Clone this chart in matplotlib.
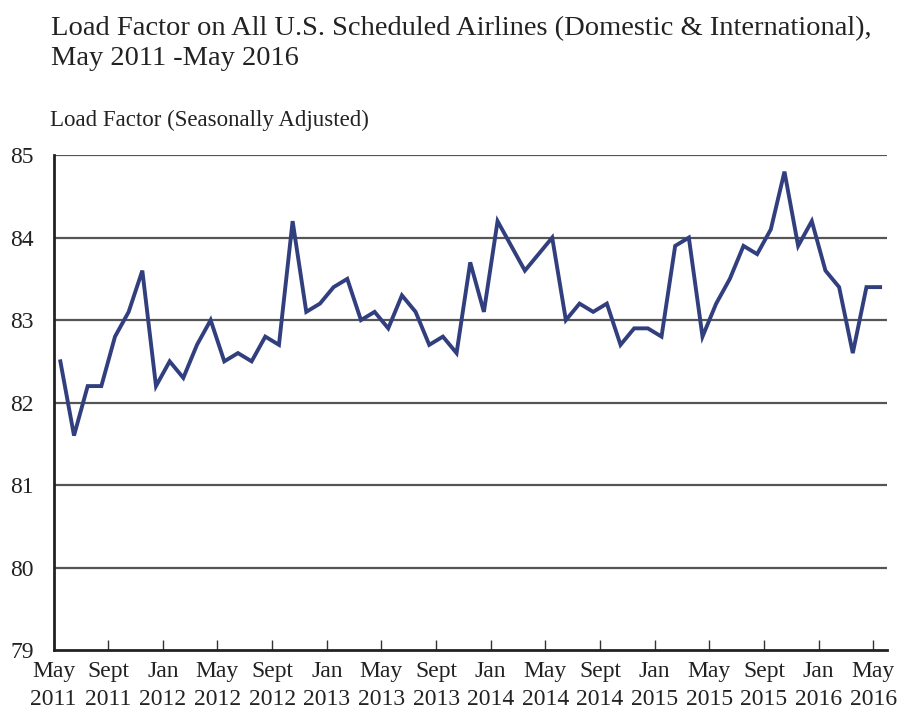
import numpy as np
import matplotlib.pyplot as plt

# monthly load factor, May 2011 .. May 2016 (61 points)
load_factor = [
    82.5, 81.6, 82.2, 82.2, 82.8, 83.1, 83.6, 82.2, 82.5, 82.3,
    82.7, 83.0, 82.5, 82.6, 82.5, 82.8, 82.7, 84.2, 83.1, 83.2,
    83.4, 83.5, 83.0, 83.1, 82.9, 83.3, 83.1, 82.7, 82.8, 82.6,
    83.7, 83.1, 84.2, 83.9, 83.6, 83.8, 84.0, 83.0, 83.2, 83.1,
    83.2, 82.7, 82.9, 82.9, 82.8, 83.9, 84.0, 82.8, 83.2, 83.5,
    83.9, 83.8, 84.1, 84.8, 83.9, 84.2, 83.6, 83.4, 82.6, 83.4,
    83.4,
]
tick_labels = ['May\n2011', 'Sept\n2011', 'Jan\n2012', 'May\n2012', 'Sept\n2012',
               'Jan\n2013', 'May\n2013', 'Sept\n2013', 'Jan\n2014', 'May\n2014',
               'Sept\n2014', 'Jan\n2015', 'May\n2015', 'Sept\n2015', 'Jan\n2016',
               'May\n2016']
y_ticks = [79, 80, 81, 82, 83, 84, 85]

plt.rcParams['font.family'] = ['Liberation Serif', 'DejaVu Serif']

fig = plt.figure(figsize=(9.01, 7.15), dpi=100)
ax = fig.add_axes([0.0594, 0.0909, 0.925, 0.6921])

# category axis: points sit in the middle of each month slot
months = np.arange(len(load_factor))
ax.plot(months, load_factor, color='#323f7e', lw=2.8, solid_joinstyle='miter', zorder=3)

ax.set_xlim(-0.5, len(load_factor) - 0.5)
ax.set_ylim(79, 85)
ax.set_yticks(y_ticks)
ax.set_yticklabels([str(v) for v in y_ticks], fontsize=17)
ax.set_xticks(np.arange(0, 61, 4) - 0.5)
ax.set_xticklabels(tick_labels, fontsize=17, linespacing=1.45)
ax.tick_params(axis='y', length=0, pad=14, colors='#222222')
ax.tick_params(axis='x', direction='in', length=7, width=1, pad=8, color='#333333',
               labelcolor='#222222')

for v in y_ticks[1:]:
    ax.axhline(v, color='#555555', lw=1.6, zorder=1)

for s in ['top', 'right']:
    ax.spines[s].set_visible(False)
ax.spines['left'].set_linewidth(2)
ax.spines['bottom'].set_linewidth(2)
ax.spines['left'].set_color('#222222')
ax.spines['bottom'].set_color('#222222')

fig.text(0.057, 0.978, 'Load Factor on All U.S. Scheduled Airlines (Domestic & International),\nMay 2011 -May 2016',
         fontsize=20.5, va='top', ha='left', linespacing=1.3, color='#222222')
fig.text(0.055, 0.832, 'Load Factor (Seasonally Adjusted)', fontsize=16.5, va='center', ha='left',
         color='#222222')

fig.savefig('out.png', dpi=100)
